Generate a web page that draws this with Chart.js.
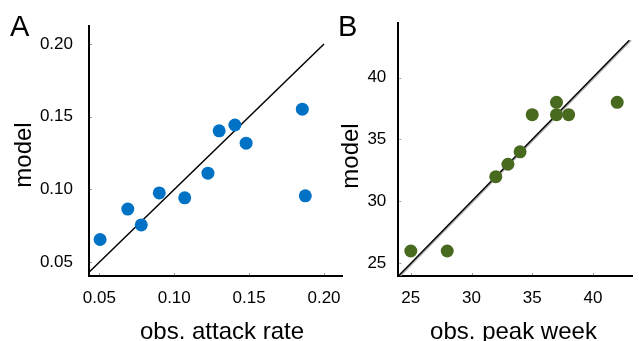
<!DOCTYPE html>
<html>
<head>
<meta charset="utf-8">
<script src="https://cdn.jsdelivr.net/npm/chart.js@4"></script>
<style>
  body { margin: 0; background: #fff; }
  .panel { position: absolute; top: 0; height: 341px; }
  #panelA { left: 0; width: 360px; }
  #panelB { left: 339px; width: 300px; }
</style>
</head>
<body>
<div class="panel" id="panelA"><canvas id="chartA"></canvas></div>
<div class="panel" id="panelB"><canvas id="chartB"></canvas></div>
<script>
// Panel A: attack rate
const obsAttack = [0.0505, 0.069, 0.078, 0.090, 0.107, 0.1225, 0.130, 0.1405, 0.148, 0.1855, 0.1875];
const modelAttack = [0.0656, 0.0865, 0.0756, 0.0976, 0.0942, 0.1112, 0.1403, 0.1443, 0.1318, 0.1552, 0.0956];
const ticksA = [0.05, 0.10, 0.15, 0.20];

// Panel B: peak week
const obsPeak = [25, 28, 32, 33, 34, 35, 37, 37, 38, 42];
const modelPeak = [26, 26, 32, 33, 34, 37, 38, 37, 37, 38];
const ticksB = [25, 30, 35, 40];

const FONT = "'Liberation Sans', Arial, sans-serif";

// small grey tick marks drawn inside the axes
const innerTicks = {
  id: 'innerTicks',
  afterDatasetsDraw(chart) {
    const ctx = chart.ctx;
    const area = chart.chartArea;
    ctx.save();
    ctx.strokeStyle = '#999';
    ctx.lineWidth = 1;
    chart.scales.x.ticks.forEach(t => {
      const px = Math.round(chart.scales.x.getPixelForValue(t.value)) + 0.5;
      ctx.beginPath();
      ctx.moveTo(px, area.bottom - 1);
      ctx.lineTo(px, area.bottom - 3);
      ctx.stroke();
    });
    chart.scales.y.ticks.forEach(t => {
      const py = Math.round(chart.scales.y.getPixelForValue(t.value)) + 0.5;
      ctx.beginPath();
      ctx.moveTo(area.left + 1, py);
      ctx.lineTo(area.left + 3, py);
      ctx.stroke();
    });
    ctx.restore();
  }
};

// panel letter and axis titles
const panelText = {
  id: 'panelText',
  afterDraw(chart, args, opts) {
    const ctx = chart.ctx;
    ctx.save();
    ctx.fillStyle = '#000';
    opts.items.forEach(it => {
      ctx.save();
      ctx.font = it.size + 'px ' + FONT;
      ctx.textAlign = it.align || 'center';
      ctx.textBaseline = 'alphabetic';
      ctx.translate(it.x, it.y);
      if (it.rotate) ctx.rotate(it.rotate);
      ctx.fillText(it.text, 0, 0);
      ctx.restore();
    });
    ctx.restore();
  }
};

function makeChart(id, cfg) {
  const points = cfg.xs.map((x, i) => ({ x: x, y: cfg.ys[i] }));
  const datasets = [
    {
      type: 'scatter',
      data: points,
      backgroundColor: cfg.color,
      borderWidth: 0,
      pointRadius: 6.5
    },
    {
      type: 'line',
      data: cfg.line,
      borderColor: '#000',
      borderWidth: 1.5,
      pointRadius: 0
    }
  ];
  if (cfg.line2) {
    datasets.push({
      type: 'line',
      data: cfg.line2,
      borderColor: '#b0b0b0',
      borderWidth: 1.5,
      pointRadius: 0
    });
  }
  return new Chart(document.getElementById(id), {
    type: 'scatter',
    data: { datasets: datasets },
    options: {
      responsive: true,
      maintainAspectRatio: false,
      animation: false,
      layout: { padding: { left: 0, top: cfg.top, right: cfg.right, bottom: 0 } },
      plugins: {
        legend: { display: false },
        tooltip: { enabled: false },
        panelText: { items: cfg.texts }
      },
      scales: {
        x: {
          type: 'linear',
          min: cfg.xMin, max: cfg.xMax,
          afterBuildTicks: s => { s.ticks = cfg.ticks.map(v => ({ value: v })); },
          afterFit: s => { s.height = cfg.xHeight; },
          grid: { drawOnChartArea: false, drawTicks: false },
          border: { color: '#000', width: 2 },
          ticks: {
            padding: 12,
            color: '#000',
            font: { family: FONT, size: 17 },
            callback: cfg.fmt
          }
        },
        y: {
          type: 'linear',
          min: cfg.yMin, max: cfg.yMax,
          afterBuildTicks: s => { s.ticks = cfg.ticks.map(v => ({ value: v })); },
          afterFit: s => { s.width = cfg.yWidth; },
          grid: { drawOnChartArea: false, drawTicks: false },
          border: { color: '#000', width: 2 },
          ticks: {
            padding: cfg.yPad,
            color: '#000',
            font: { family: FONT, size: 17 },
            callback: cfg.fmt
          }
        }
      }
    },
    plugins: [innerTicks, panelText]
  });
}

makeChart('chartA', {
  xs: obsAttack, ys: modelAttack, color: '#0072C6',
  line: [{ x: 0.0405, y: 0.0405 }, { x: 0.20, y: 0.20 }],
  ticks: ticksA,
  xMin: 0.0431, xMax: 0.212, yMin: 0.0405, yMax: 0.2122,
  top: 24, right: 18, xHeight: 65, yWidth: 89, yPad: 16,
  fmt: v => Number(v).toFixed(2),
  texts: [
    { text: 'A', x: 10, y: 36, size: 29, align: 'left' },
    { text: 'model', x: 31, y: 155, size: 24, rotate: -Math.PI / 2 },
    { text: 'obs. attack rate', x: 222, y: 339, size: 24 }
  ]
});

makeChart('chartB', {
  xs: obsPeak, ys: modelPeak, color: '#486A1E',
  line: [{ x: 24, y: 24 }, { x: 43, y: 43 }],
  line2: [{ x: 24.15, y: 24 }, { x: 43.15, y: 43 }],
  ticks: ticksB,
  xMin: 23.97, xMax: 43.26, yMin: 23.98, yMax: 44.4,
  top: 23, right: 2, xHeight: 65, yWidth: 59.3, yPad: 12,
  fmt: v => String(v),
  texts: [
    { text: 'B', x: -1, y: 36, size: 29, align: 'left' },
    { text: 'model', x: 19, y: 156, size: 24, rotate: -Math.PI / 2 },
    { text: 'obs. peak week', x: 174.5, y: 339, size: 24 }
  ]
});
</script>
</body>
</html>
